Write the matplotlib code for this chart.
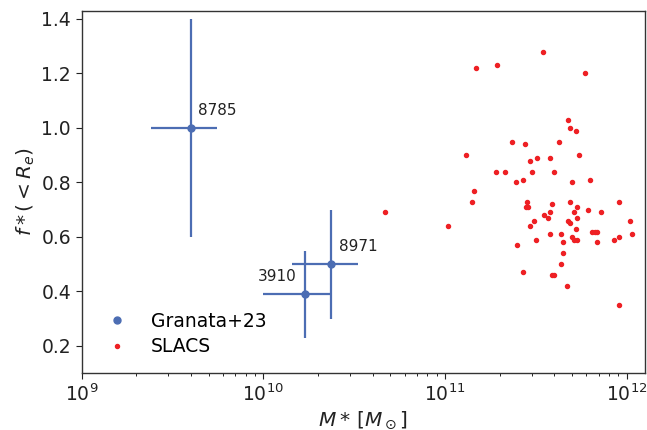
import matplotlib
matplotlib.use("Agg")
import numpy as np
import matplotlib.pyplot as plt

# Granata+23 lenses
gr_names = ['8785', '8971', '3910']
gr_mass = [4.0e9, 2.35e10, 1.69e10]
gr_mass_lo = [2.40e9, 1.43e10, 1.0e10]
gr_mass_hi = [5.53e9, 3.31e10, 2.35e10]
gr_f = [1.0, 0.5, 0.39]
gr_f_lo = [0.6, 0.3, 0.23]
gr_f_hi = [1.4, 0.7, 0.55]

# SLACS sample (log10 M*, f*)
slacs_logm = [11.537, 11.168, 11.287, 11.768, 11.678, 11.687, 11.719, 11.368, 11.438, 11.628,
              11.118, 11.469, 11.507, 11.577, 11.737, 11.278, 11.328, 11.478, 11.598, 11.428,
              11.797, 11.388, 11.697, 11.159, 11.149, 11.449, 11.687, 11.957, 11.588, 11.445,
              11.456, 11.727, 11.788, 10.668, 11.577, 11.709, 11.858, 11.546, 11.568, 11.727,
              11.487, 11.678, 11.687, 12.018, 11.469, 11.017, 11.719, 11.577, 11.638, 11.807,
              11.825, 11.838, 12.029, 11.697, 11.957, 11.498, 11.708, 11.727, 11.928, 11.649,
              11.838, 11.397, 11.649, 11.638, 11.428, 11.588, 11.597, 11.669, 11.957]
slacs_f = [1.28, 1.22, 1.23, 1.20, 1.03, 1.00, 0.99, 0.95, 0.94, 0.95,
           0.90, 0.88, 0.89, 0.89, 0.90, 0.84, 0.84, 0.84, 0.84, 0.81,
           0.81, 0.80, 0.80, 0.77, 0.73, 0.73, 0.73, 0.73, 0.72, 0.71,
           0.71, 0.71, 0.70, 0.69, 0.69, 0.69, 0.69, 0.68, 0.67, 0.67,
           0.66, 0.66, 0.65, 0.66, 0.64, 0.64, 0.63, 0.61, 0.61, 0.62,
           0.62, 0.62, 0.61, 0.60, 0.60, 0.59, 0.59, 0.59, 0.59, 0.58,
           0.58, 0.57, 0.54, 0.50, 0.47, 0.46, 0.46, 0.42, 0.35]

blue = '#4c6db3'
red = '#ee2024'

fig = plt.figure(figsize=(6.47, 4.30), dpi=100)
ax = fig.add_axes([0.126, 0.132, 0.871, 0.843])

gr_mass = np.array(gr_mass)
gr_f = np.array(gr_f)
xerr = [gr_mass - np.array(gr_mass_lo), np.array(gr_mass_hi) - gr_mass]
yerr = [gr_f - np.array(gr_f_lo), np.array(gr_f_hi) - gr_f]
ax.errorbar(gr_mass, gr_f, xerr=xerr, yerr=yerr, fmt='none', ecolor=blue, elinewidth=1.6, capsize=0)
ax.plot(gr_mass, gr_f, 'o', color=blue, markersize=5, label='Granata+23', zorder=3)
ax.plot(10 ** np.array(slacs_logm), slacs_f, 'o', color=red, markersize=2.9, label='SLACS', zorder=3)

offsets = {'8785': (7, 10, 'left'), '8971': (8, 10, 'left'), '3910': (-8, 10, 'right')}
for name, m, f in zip(gr_names, gr_mass, gr_f):
    dx, dy, ha = offsets[name]
    ax.annotate(name, (m, f), xytext=(dx, dy), textcoords='offset pixels',
                ha=ha, va='bottom', fontsize=11, color='#222222')

ax.set_xscale('log')
ax.set_xlim(1e9, 1.26e12)
ax.set_ylim(0.1, 1.43)
ax.set_yticks([0.2, 0.4, 0.6, 0.8, 1.0, 1.2, 1.4])
ax.tick_params(labelsize=13.5, colors='#222222', direction='out')
ax.tick_params(which='major', length=4)
ax.tick_params(which='minor', length=2.5)
for s in ax.spines.values():
    s.set_color('#333333')
    s.set_linewidth(1.0)

ax.set_xlabel(r'$M*\,[M_\odot]$', fontsize=14.5, color='#222222', labelpad=3)
ax.set_ylabel(r'$f*(<R_e)$', fontsize=14.5, color='#222222', labelpad=3)

ax.legend(loc='lower left', frameon=False, fontsize=13.5, handletextpad=0.8,
          borderaxespad=0.5, labelspacing=0.35)

fig.savefig('out.png', dpi=100)
